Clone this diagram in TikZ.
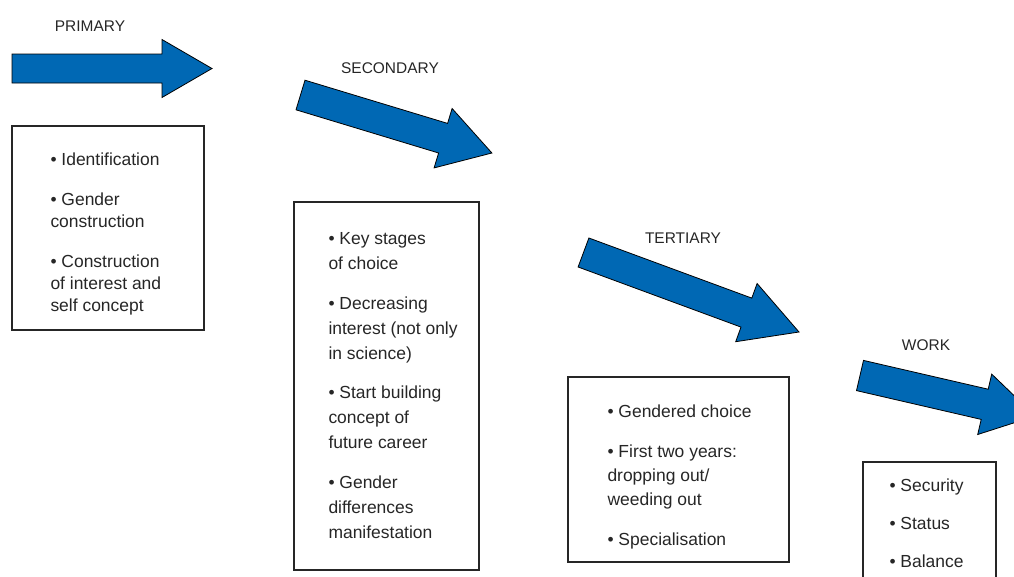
\documentclass[tikz,border=0pt]{standalone}
\usepackage{fontspec}
\setmainfont{Liberation Sans}
\usepackage{tikz}
\definecolor{arrowblue}{RGB}{0,104,180}
\definecolor{inkgray}{RGB}{38,38,38}
\tikzset{every picture/.style={line width=0.75pt}}
\tikzset{
  stagearrow/.style={draw=black, line width=0.6pt, fill=arrowblue, line join=miter},
  infobox/.style={draw=inkgray, line width=0.9pt},
  bullets/.style={anchor=north west, inner sep=0pt, align=left, text=inkgray, font=\fontsize{13.1}{18}\selectfont},
  stagelabel/.style={inner sep=0pt, text=inkgray, font=\fontsize{11.6}{14}\selectfont}
}

\begin{document}
\begin{tikzpicture}[x=0.75pt,y=0.75pt,yscale=-1,xscale=1]
\clip (0,0) rectangle (1014,576);

%Shape: Right Arrow
\draw [stagearrow] (12,54) -- (162,54) -- (162,39.5) -- (212,68.5) -- (162,97.5) -- (162,83) -- (12,83) -- cycle ;
%Shape: Right Arrow
\draw [stagearrow] (305,80.2) -- (447.6,123.4) -- (452.1,108.5) -- (491.9,153) -- (434.1,167.9) -- (438.6,153) -- (296,109.8) -- cycle ;
%Shape: Right Arrow
\draw [stagearrow] (588.9,238) -- (751.8,298.1) -- (757.1,283.5) -- (799,332) -- (735.7,341.7) -- (741,327.1) -- (578.1,267) -- cycle ;
%Shape: Right Arrow
\draw [stagearrow] (863.5,360.4) -- (988.2,389.2) -- (991.7,374.1) -- (1035.3,416) -- (977.7,434.5) -- (981.2,419.4) -- (856.5,390.6) -- cycle ;

%Shape: Rectangle
\draw [infobox] (12,126) rectangle (204,330) ;
%Shape: Rectangle
\draw [infobox] (294,202) rectangle (479,570) ;
%Shape: Rectangle
\draw [infobox] (568,377) rectangle (789,562) ;
%Shape: Rectangle
\draw [infobox] (863,462) rectangle (996,600) ;

% stage names
\node [stagelabel] (primary) at (90,26) {PRIMARY};
\node [stagelabel] (secondary) at (390,68) {SECONDARY};
\node [stagelabel] (tertiary) at (683,238) {TERTIARY};
\node [stagelabel] (work) at (926,345) {WORK};

% box contents
\node [bullets, font=\fontsize{13.1}{16.5}\selectfont] (primarylist) at (50,152) {\textbullet\ Identification\\[13.5pt]
  \textbullet\ Gender\\construction\\[13.5pt]
  \textbullet\ Construction\\of interest and\\self concept};
\node [bullets, font=\fontsize{13.1}{18.75}\selectfont] (secondarylist) at (328,232) {\textbullet\ Key stages\\of choice\\[11pt]
  \textbullet\ Decreasing\\interest (not only\\in science)\\[11pt]
  \textbullet\ Start building\\concept of\\future career\\[11pt]
  \textbullet\ Gender\\differences\\manifestation};
\node [bullets] (tertiarylist) at (607,404) {\textbullet\ Gendered choice\\[12pt]
  \textbullet\ First two years:\\dropping out/\\weeding out\\[12pt]
  \textbullet\ Specialisation};
\node [bullets] (worklist) at (889,478) {\textbullet\ Security\\[10.5pt]
  \textbullet\ Status\\[10.5pt]
  \textbullet\ Balance};

\end{tikzpicture}
\end{document}
